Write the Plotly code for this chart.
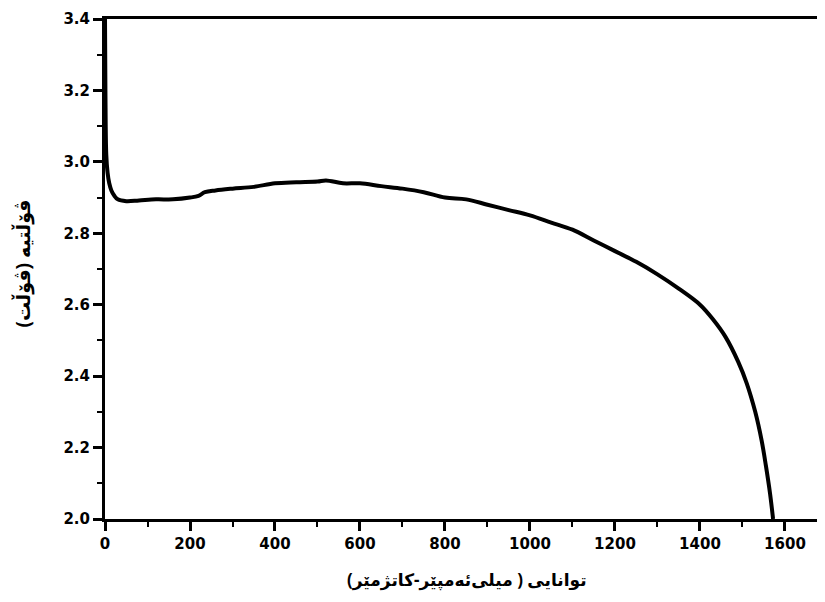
import plotly.graph_objects as go

capacity = [0, 1, 3, 6, 10, 15, 22, 30, 50, 80, 120, 160, 200, 220, 235, 260, 300, 350, 400, 450,
            500, 520, 560, 600, 650, 700, 750, 800, 850, 900, 950, 1000, 1050, 1100, 1150, 1200,
            1250, 1300, 1350, 1400, 1430, 1460, 1490, 1510, 1530, 1545, 1555, 1565, 1572]
voltage = [3.40, 3.20, 3.02, 2.97, 2.94, 2.92, 2.905, 2.895, 2.89, 2.892, 2.895, 2.895, 2.90, 2.905,
           2.915, 2.92, 2.925, 2.93, 2.94, 2.943, 2.945, 2.948, 2.94, 2.94, 2.932, 2.925, 2.915,
           2.90, 2.895, 2.88, 2.865, 2.85, 2.83, 2.81, 2.78, 2.75, 2.72, 2.685, 2.645, 2.60, 2.56,
           2.51, 2.44, 2.38, 2.30, 2.22, 2.15, 2.07, 2.00]

x_title = "توانایی ( میلی‌ئەمپێر-کاتژمێر)"
y_title = "ڤۆڵتیە (ڤۆڵت)"

fig = go.Figure()
fig.add_trace(go.Scatter(x=capacity, y=voltage, mode="lines",
                         line=dict(color="black", width=4), line_shape="spline",
                         showlegend=False))

tick_font = dict(family="DejaVu Sans, sans-serif", size=15, color="black", weight="bold")
title_font = dict(family="Noto Sans, DejaVu Sans, sans-serif", color="black", weight="bold")

fig.update_layout(
    width=825, height=602,
    margin=dict(l=97, r=0, t=11, b=91, autoexpand=False),
    paper_bgcolor="white", plot_bgcolor="white",
    font=tick_font,
    xaxis=dict(
        range=[0, 1713], tickmode="linear", tick0=0, dtick=200,
        showgrid=False, zeroline=False, automargin=False,
        showline=True, linecolor="black", linewidth=3, mirror=True,
        ticks="outside", ticklen=9, tickwidth=2.5, tickcolor="black",
        minor=dict(ticks="outside", ticklen=5, tickwidth=2, tickcolor="black", dtick=100, tick0=0),
        tickfont=tick_font,
    ),
    yaxis=dict(
        range=[2.0, 3.4], tickmode="linear", tick0=2.0, dtick=0.2, tickformat=".1f",
        showgrid=False, zeroline=False, automargin=False,
        showline=True, linecolor="black", linewidth=3,
        ticks="outside", ticklen=9, tickwidth=2.5, tickcolor="black",
        minor=dict(ticks="outside", ticklen=5, tickwidth=2, tickcolor="black", dtick=0.1, tick0=2.0),
        tickfont=tick_font,
    ),
    annotations=[
        dict(text=x_title, xref="paper", yref="paper", x=0.497, y=-0.12,
             xanchor="center", yanchor="middle", showarrow=False,
             font=dict(size=17, **title_font)),
        dict(text=y_title, xref="paper", yref="paper", x=-0.112, y=0.512,
             xanchor="center", yanchor="middle", showarrow=False, textangle=-90,
             font=dict(size=19, **title_font)),
    ],
)

fig.write_html("out.html")
